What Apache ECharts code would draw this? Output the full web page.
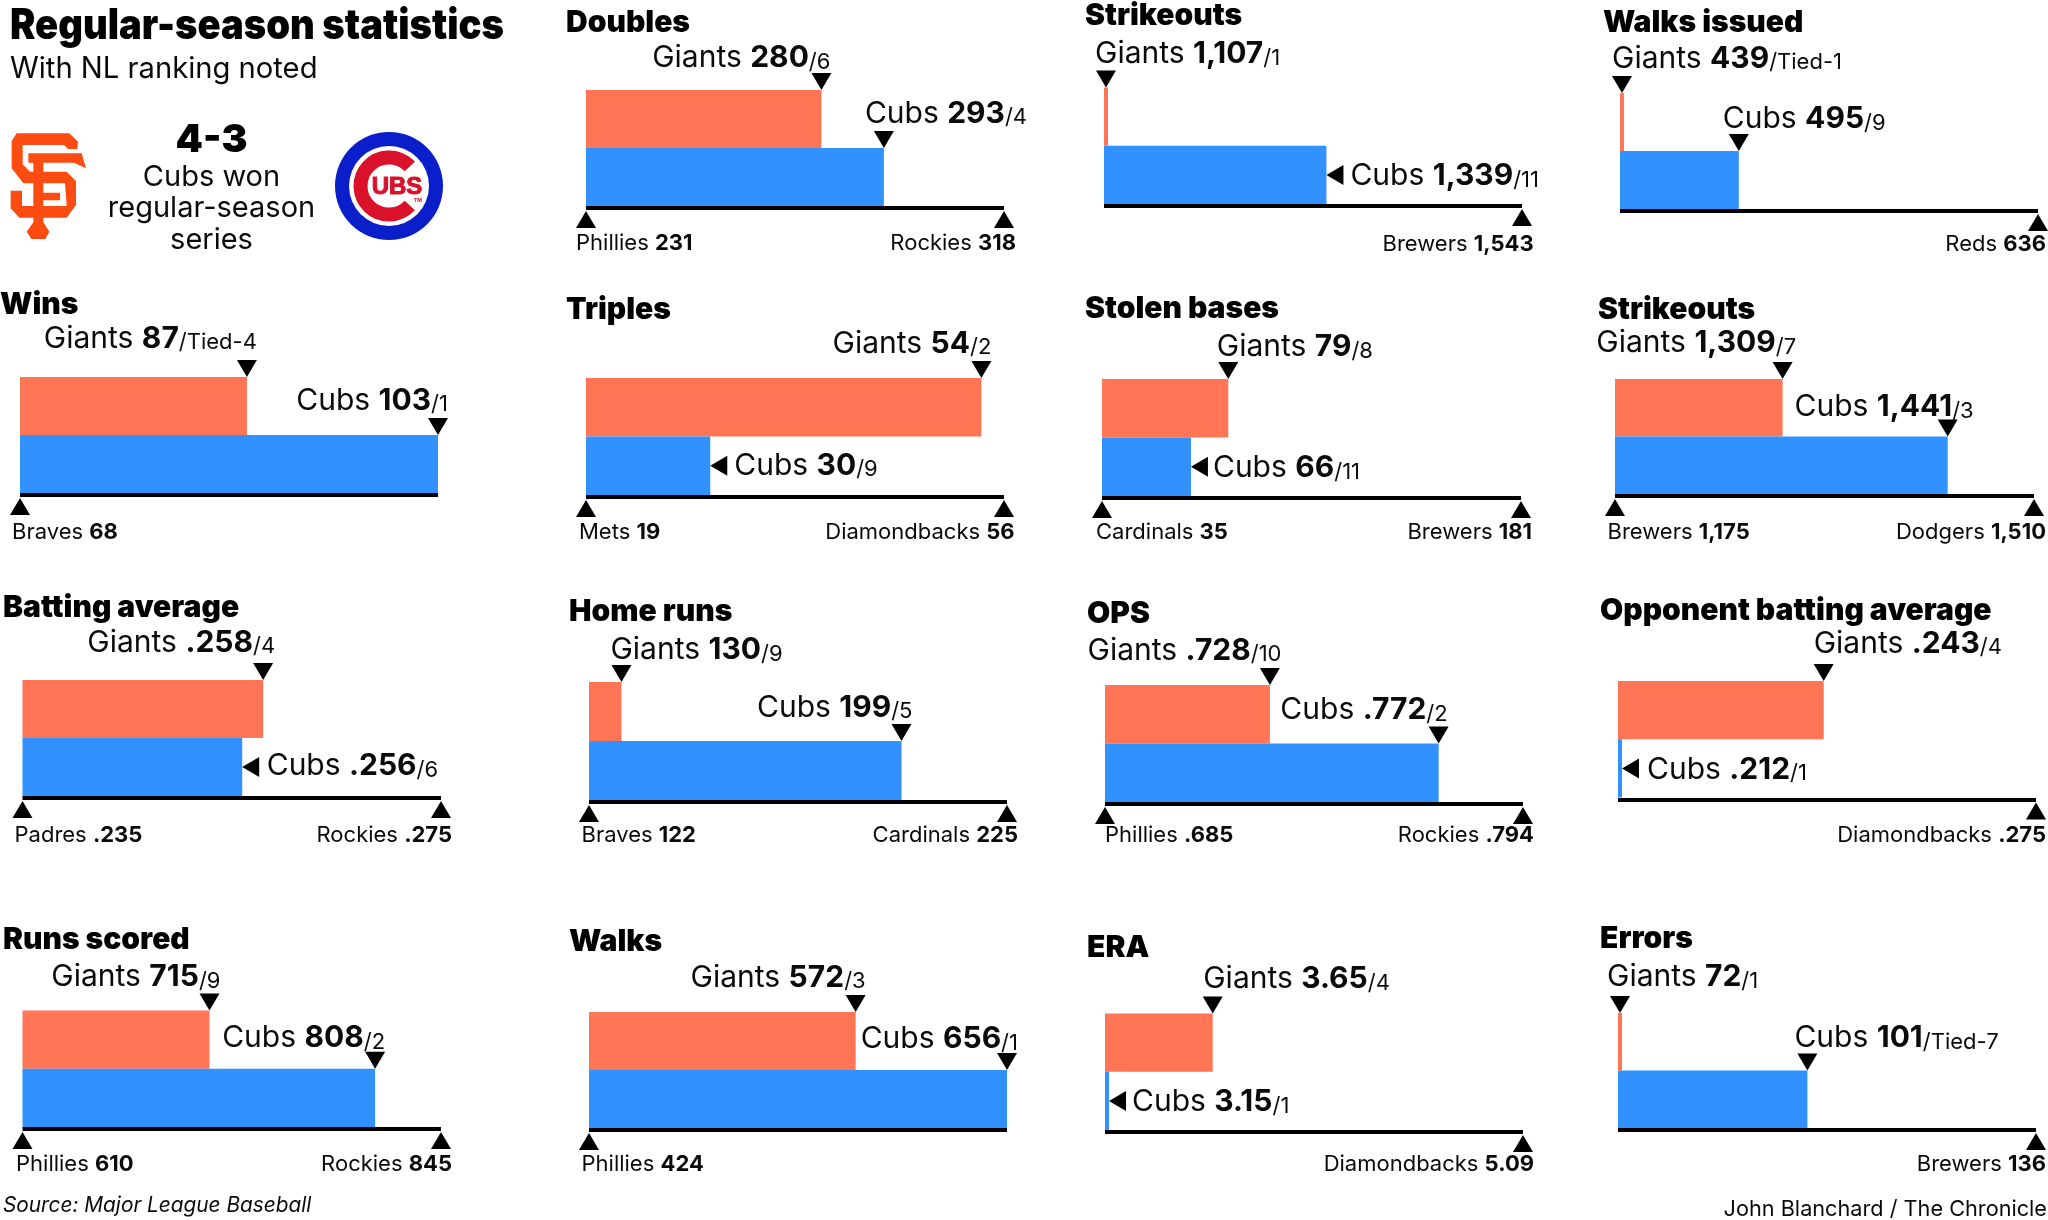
<!DOCTYPE html>
<html>
<head>
<meta charset="utf-8">
<style>html,body{margin:0;padding:0;background:#fff}#c{width:2048px;height:1220px}</style>
<script src="https://cdn.jsdelivr.net/npm/echarts@6/dist/echarts.min.js"></script>
</head>
<body>
<div id="c"></div>
<script>
// ---------- data ----------
const statTitles = ['Doubles','Strikeouts','Walks issued','Wins','Triples','Stolen bases','Strikeouts','Batting average','Home runs','OPS','Opponent batting average','Runs scored','Walks','ERA','Errors'];
const giantsValues = [280,1107,439,87,54,79,1309,0.258,130,0.728,0.243,715,572,3.65,72];
const cubsValues   = [293,1339,495,103,30,66,1441,0.256,199,0.772,0.212,808,656,3.15,101];
const giantsText = ['280','1,107','439','87','54','79','1,309','.258','130','.728','.243','715','572','3.65','72'];
const cubsText   = ['293','1,339','495','103','30','66','1,441','.256','199','.772','.212','808','656','3.15','101'];
const giantsRanks = ['/6','/1','/Tied-1','/Tied-4','/2','/8','/7','/4','/9','/10','/4','/9','/3','/4','/1'];
const cubsRanks   = ['/4','/11','/9','/1','/9','/11','/3','/6','/5','/2','/1','/2','/1','/1','/Tied-7'];
const lowTeams  = ['Phillies','','','Braves','Mets','Cardinals','Brewers','Padres','Braves','Phillies','','Phillies','Phillies','',''];
const lowValues = [231,1107,439,68,19,35,1175,0.235,122,0.685,0.212,610,424,3.15,72];
const lowText   = ['231','','','68','19','35','1,175','.235','122','.685','','610','424','',''];
const highTeams  = ['Rockies','Brewers','Reds','','Diamondbacks','Brewers','Dodgers','Rockies','Cardinals','Rockies','Diamondbacks','Rockies','','Diamondbacks','Brewers'];
const highValues = [318,1543,636,103,56,181,1510,0.275,225,0.794,0.275,845,656,5.09,136];
const highText   = ['318','1,543','636','','56','181','1,510','.275','225','.794','.275','845','','5.09','136'];

// ---------- layout (pixels, kept apart from the data) ----------
const plotLeft   = [586,1104,1620,20,586,1102,1615,22.5,589,1105,1618,22.5,589,1105,1618];
const plotRight  = [1004,1522,2038,438,1004,1521,2034,441,1007,1523,2036,441,1007,1523,2036];
const plotTop    = [90,87.5,93,377,378,379,379,680,682,685,681,1010.5,1012,1013.5,1013];
const plotBottom = [206,204,209,493,495,496,494,796,800,802,797.5,1127,1128,1130,1128];
const titleX = [566,1085,1603,0,566,1085,1598,3,569,1087,1600,3,569,1087,1600];
const titleY = [23,16,23,305,310,309,309.5,607.5,612,613.6,611,940,942,948,939];
const footY  = [241.8,242.3,242.3,530.8,530.8,530.8,530.8,833.8,833.8,833.8,833.8,1162.8,1162.8,1162.8,1162.8];
const lowDx  = [-10,0,0,-8,-7,-6,-7.5,-8,-7.5,0,0,-6.5,-7.5,0,0];
const highDx = [12,11.6,8,0,10.6,11,12,11,11,11,10,11,0,11,10];
// label anchoring against the marker: [text-align, dx from the value]
const giantsAnchor = [['right',9],['left',-9],['left',-8],['right',10],['right',10],['left',-11.5],['right',13.5],['right',12],['left',-11],['right',11.6],['left',-10],['right',11],['right',10],['left',-9.5],['left',-11]];
const cubsAnchor   = [['left',-19],['left',24],['left',-16],['right',10],['left',24],['left',22],['right',26],['left',24.5],['right',11],['right',9],['left',29],['right',10],['right',11],['left',27],['left',-13]];
const cubsSide = [false,true,false,false,true,true,false,true,false,false,true,false,false,true,false];
const giantsDy = [-26.6,-28,-29,-33,-29,-26.6,-30.5,-32,-26.6,-29,-32,-28,-29,-29,-30.5];
const cubsDy   = [-29,-1.6,-26.6,-29,-3,-1.6,-24,-4,-28,-28,-1.6,-25.3,-25.3,-1.6,-26.6];

const ORANGE = '#FF7555', BLUE = '#3091FF', INK = '#0b0b0b';
const FONT = 'Inter';
const MW = 20, MH = 17, SLIVER = 4;

const rich = {
  rg:{fontFamily:FONT,fontSize:30,fontWeight:400,color:INK,lineHeight:36,verticalAlign:'bottom'},
  bd:{fontFamily:FONT,fontSize:30,fontWeight:700,color:INK,lineHeight:36,verticalAlign:'bottom'},
  sm:{fontFamily:FONT,fontSize:22,fontWeight:400,color:INK,lineHeight:36,verticalAlign:'bottom'},
  frg:{fontFamily:FONT,fontSize:22,fontWeight:400,color:INK,lineHeight:26,verticalAlign:'bottom'},
  fbd:{fontFamily:FONT,fontSize:22,fontWeight:700,color:INK,lineHeight:26,verticalAlign:'bottom'}
};

const grids=[],xAxes=[],yAxes=[],series=[],titles=[];
statTitles.forEach((name,i)=>{
  const L=plotLeft[i],R=plotRight[i],T=plotTop[i],B=plotBottom[i],h=B-T,band=h/2,min=lowValues[i],max=highValues[i];
  grids.push({left:L,top:T,width:R-L,height:h,containLabel:false});
  xAxes.push({gridIndex:i,type:'value',min:min,max:max,show:true,offset:2,
    axisLine:{show:true,onZero:false,lineStyle:{color:'#000',width:4,cap:'butt'}},axisTick:{show:false},axisLabel:{show:false},splitLine:{show:false}});
  yAxes.push({gridIndex:i,type:'category',inverse:true,data:['Giants','Cubs'],show:false});
  series.push({type:'bar',xAxisIndex:i,yAxisIndex:i,silent:true,barWidth:'100%',barGap:0,
    data:[{value:giantsValues[i],itemStyle:{color:ORANGE}},{value:cubsValues[i],itemStyle:{color:BLUE}}]});
  const pts=[];
  const lbl=(fmt,align,dx,dy)=>({show:true,position:'inside',formatter:fmt,rich:rich,align:align,verticalAlign:'middle',offset:[dx,dy]});
  const sliverG=giantsValues[i]===min?2:0, sliverC=cubsValues[i]===min?2:0;
  // a team at the league best still shows a hairline bar
  if(sliverG) pts.push({value:[min,'Giants'],symbol:'rect',symbolSize:[SLIVER,band],symbolOffset:[SLIVER/2,0],symbolRotate:0,itemStyle:{color:ORANGE}});
  if(sliverC) pts.push({value:[min,'Cubs'],symbol:'rect',symbolSize:[SLIVER,band],symbolOffset:[SLIVER/2,0],symbolRotate:0,itemStyle:{color:BLUE}});
  // giants marker
  pts.push({value:[giantsValues[i],'Giants'],symbolRotate:180,symbolOffset:[sliverG,-band/2-MH/2],
    label:lbl('{rg|Giants }{bd|'+giantsText[i]+'}{sm|'+giantsRanks[i]+'}',giantsAnchor[i][0],giantsAnchor[i][1]-sliverG,giantsDy[i])});
  // cubs marker
  if(cubsSide[i]){
    const extra=cubsValues[i]===min?SLIVER:0;
    pts.push({value:[cubsValues[i],'Cubs'],symbolRotate:90,symbolOffset:[extra+MH/2,0],
      label:lbl('{rg|Cubs }{bd|'+cubsText[i]+'}{sm|'+cubsRanks[i]+'}',cubsAnchor[i][0],cubsAnchor[i][1]-extra-MH/2,cubsDy[i])});
  }else{
    pts.push({value:[cubsValues[i],'Cubs'],symbolRotate:180,symbolOffset:[sliverC,-band/2-MH/2],
      label:lbl('{rg|Cubs }{bd|'+cubsText[i]+'}{sm|'+cubsRanks[i]+'}',cubsAnchor[i][0],cubsAnchor[i][1]-sliverC,cubsDy[i])});
  }
  // low / high league markers
  const footOff=band/2+2+11.5;
  const footDy=footY[i]-(B+2+11.5);
  if(lowTeams[i]) pts.push({value:[min,'Cubs'],symbolRotate:0,symbolOffset:[0,footOff],
    label:lbl('{frg|'+lowTeams[i]+' }{fbd|'+lowText[i]+'}','left',lowDx[i],footDy)});
  if(highTeams[i]) pts.push({value:[max,'Cubs'],symbolRotate:0,symbolOffset:[0,footOff],
    label:lbl('{frg|'+highTeams[i]+' }{fbd|'+highText[i]+'}','right',highDx[i],footDy)});
  series.push({type:'scatter',xAxisIndex:i,yAxisIndex:i,silent:true,clip:false,symbol:'triangle',symbolSize:[MW,MH],
    itemStyle:{color:'#000',opacity:1},data:pts,z:5});
  titles.push({text:name,left:titleX[i],top:titleY[i]-18,padding:0,textStyle:{fontFamily:FONT,fontSize:30,fontWeight:900,color:'#000',lineHeight:36}});
});

// ---------- SF logo (decoration) ----------
const LOGO_SF='#FC4C12';
const sf=p=>p.map(q=>[q[0]/3,125+q[1]/3]);
const sfFill=(pts)=>({type:'polygon',silent:true,shape:{points:sf(pts)},style:{fill:LOGO_SF}});
const logoSF=[
  sfFill([[50,25],[208,25],[234,50],[232,72],[204,72],[192,60],[68,60],[68,118],[90,140],[200,140],[228,168],[228,240],[200,278],[58,278],[32,250],[32,197],[66,197],[66,243],[200,243],[195,175],[70,175],[35,130],[35,48]]),
  sfFill([[85,85],[245,85],[258,130],[222,113],[130,113],[130,203],[180,203],[180,226],[130,226],[130,292],[148,320],[136,342],[94,342],[80,320],[100,292],[100,113],[85,113]])
];
// ---------- Cubs logo (decoration) ----------
const CX=389,CY=186;
const logoCubs=[
  {type:'circle',silent:true,shape:{cx:CX,cy:CY,r:54},style:{fill:'#0A1FC9'}},
  {type:'circle',silent:true,shape:{cx:CX,cy:CY,r:40},style:{fill:'#fff'}},
  {type:'arc',silent:true,shape:{cx:CX,cy:CY,r:28.5,startAngle:Math.PI*0.24,endAngle:-Math.PI*0.24,clockwise:true},style:{stroke:'#D9112B',lineWidth:14,fill:null}},
  {type:'text',silent:true,style:{text:'UBS',x:397,y:187,align:'center',verticalAlign:'middle',fontFamily:'"Liberation Sans"',fontWeight:700,fontSize:24,fill:'#D9112B',stroke:'#D9112B',lineWidth:1}},
  {type:'text',silent:true,style:{text:'TM',x:418,y:200,align:'center',verticalAlign:'middle',fontFamily:FONT,fontWeight:700,fontSize:5,fill:'#D9112B'}}
];
const txt=(t,x,y,size,weight,o)=>({type:'text',silent:true,style:Object.assign({text:t,x:x,y:y,align:'left',verticalAlign:'middle',fontFamily:FONT,fontSize:size,fontWeight:weight,fill:INK},o||{})});

const chart=echarts.init(document.getElementById('c'),null,{renderer:'canvas',width:2048,height:1220});
chart.setOption({
  animation:false,backgroundColor:'#fff',
  title:titles,grid:grids,xAxis:xAxes,yAxis:yAxes,series:series,
  graphic:{elements:[].concat(logoSF,logoCubs,[
    {type:'text',silent:true,x:10,y:26,scaleX:0.908,style:{text:'Regular-season statistics',x:0,y:0,align:'left',verticalAlign:'middle',fontFamily:FONT,fontSize:42,fontWeight:900,fill:'#000'}},
    txt('With NL ranking noted',10,69,29.2,400),
    txt('4-3',211.5,140,39,900,{align:'center',fill:'#000'}),
    txt('Cubs won',211.5,177.5,29,400,{align:'center'}),
    txt('regular-season',211.5,208,29,400,{align:'center'}),
    txt('series',211.5,240,29,400,{align:'center'}),
    txt('Source: Major League Baseball',3,1206,20.8,400,{fontStyle:'italic'}),
    txt('John Blanchard / The Chronicle',2047,1209,21.7,400,{align:'right'})
  ])}
});
</script>
</body>
</html>
